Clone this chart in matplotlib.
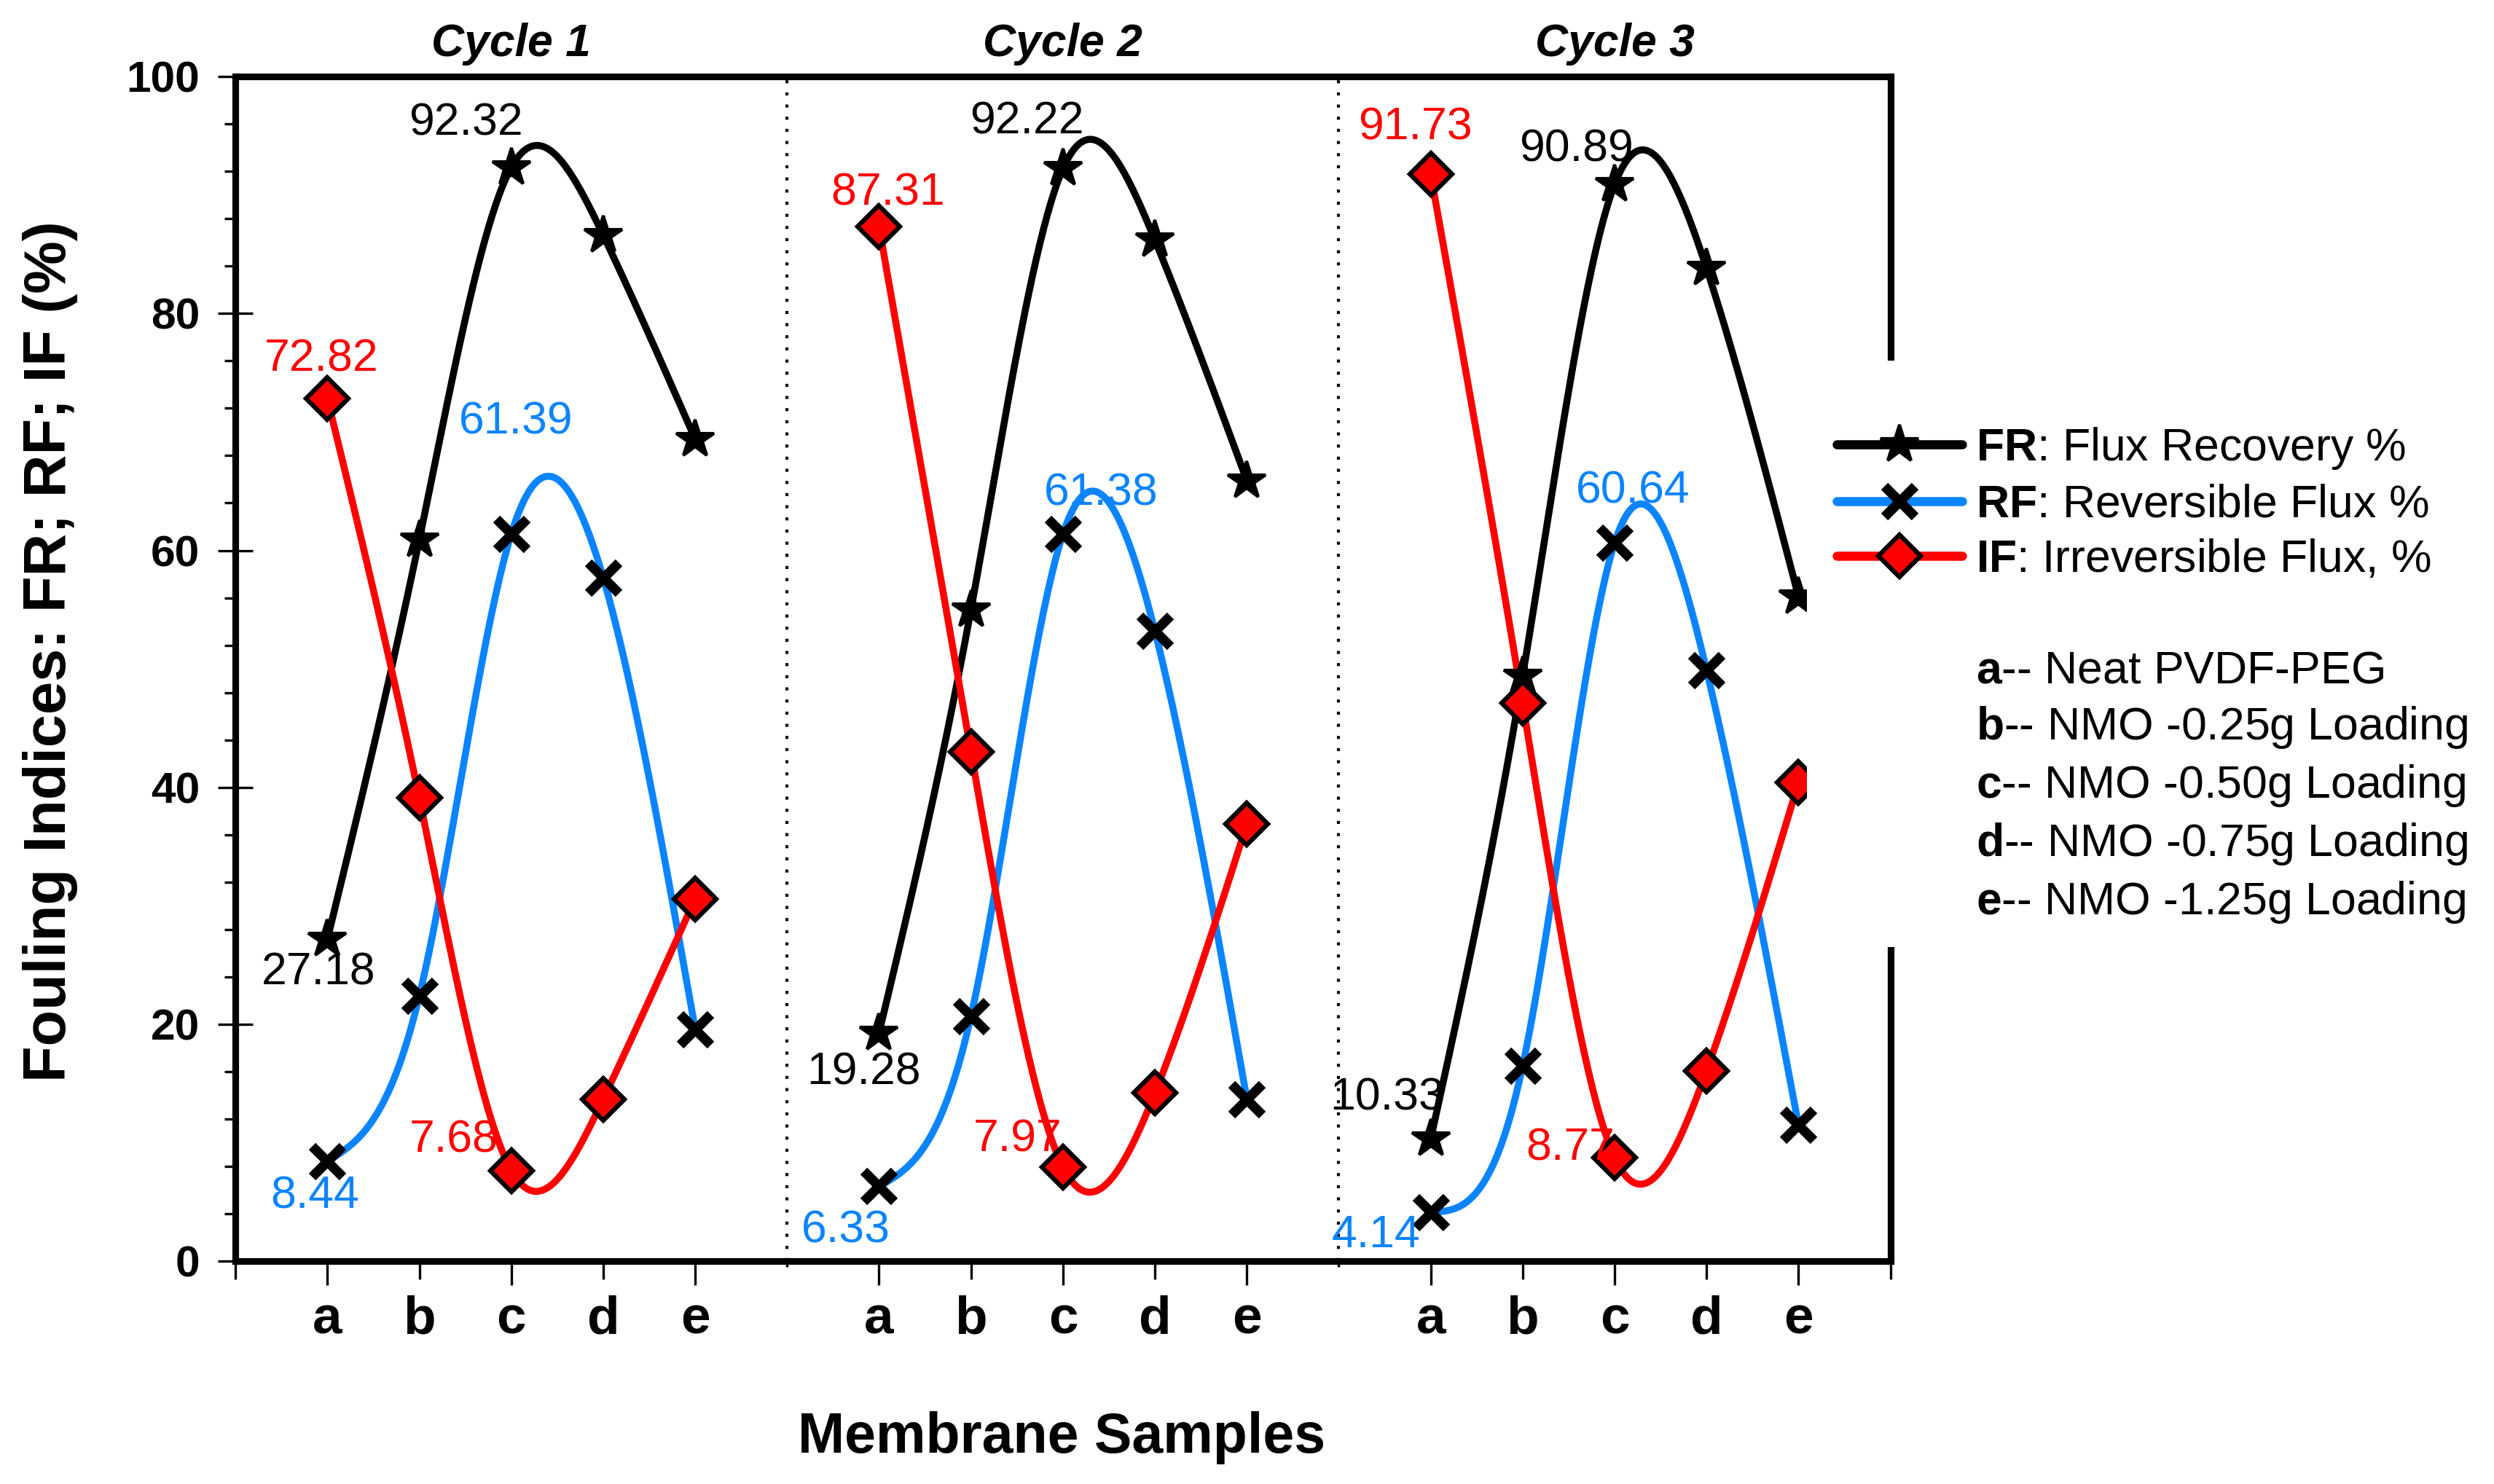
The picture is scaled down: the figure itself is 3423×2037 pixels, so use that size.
import numpy as np
import matplotlib
matplotlib.use("Agg")
import matplotlib.pyplot as plt
from matplotlib.lines import Line2D
from matplotlib.patches import Rectangle
from matplotlib.ticker import FixedLocator, MultipleLocator

plt.rcParams['font.family'] = ['Liberation Sans', 'DejaVu Sans']
plt.rcParams['mathtext.fontset'] = 'custom'
plt.rcParams['mathtext.rm'] = 'Liberation Sans'
plt.rcParams['mathtext.bf'] = 'Liberation Sans:bold'

# data: one list per cycle, samples a..e
samples = ['a', 'b', 'c', 'd', 'e']
cycles = ['Cycle 1', 'Cycle 2', 'Cycle 3']

fr_c1 = [27.18, 60.9, 92.32, 86.6, 69.4]
rf_c1 = [8.44, 22.4, 61.39, 57.7, 19.6]
if_c1 = [72.82, 39.1, 7.68, 13.7, 30.6]

fr_c2 = [19.28, 55.0, 92.22, 86.2, 65.9]
rf_c2 = [6.33, 20.7, 61.38, 53.2, 13.7]
if_c2 = [87.31, 43.0, 7.97, 14.2, 36.9]

fr_c3 = [10.33, 49.4, 90.89, 83.8, 56.1]
rf_c3 = [4.14, 16.5, 60.64, 49.9, 11.5]
if_c3 = [91.73, 47.1, 8.77, 16.1, 40.4]

fr = [fr_c1, fr_c2, fr_c3]
rf = [rf_c1, rf_c2, rf_c3]
irf = [if_c1, if_c2, if_c3]

descriptions = ['Neat PVDF-PEG', 'NMO -0.25g Loading', 'NMO -0.50g Loading',
                'NMO -0.75g Loading', 'NMO -1.25g Loading']

BLUE = '#0a84ff'
RED = '#ff0000'


def natural_spline(xs, ys, n=200):
    # natural cubic spline, used only to draw the connecting line
    xs = np.asarray(xs, float)
    ys = np.asarray(ys, float)
    k = len(xs)
    h = np.diff(xs)
    A = np.zeros((k, k))
    r = np.zeros(k)
    A[0, 0] = A[-1, -1] = 1
    for i in range(1, k - 1):
        A[i, i - 1] = h[i - 1]
        A[i, i] = 2 * (h[i - 1] + h[i])
        A[i, i + 1] = h[i]
        r[i] = 6 * ((ys[i + 1] - ys[i]) / h[i] - (ys[i] - ys[i - 1]) / h[i - 1])
    M = np.linalg.solve(A, r)
    xx = np.linspace(xs[0], xs[-1], n)
    idx = np.clip(np.searchsorted(xs, xx) - 1, 0, k - 2)
    x0, x1 = xs[idx], xs[idx + 1]
    hh = x1 - x0
    t0, t1 = x1 - xx, xx - x0
    yy = (M[idx] * t0 ** 3 + M[idx + 1] * t1 ** 3) / (6 * hh) \
        + (ys[idx] / hh - M[idx] * hh / 6) * t0 \
        + (ys[idx + 1] / hh - M[idx + 1] * hh / 6) * t1
    return xx, yy


fig = plt.figure(figsize=(3423 / 300, 2037 / 300), dpi=300)
ax = fig.add_axes([0.0944, 0.150, 0.6636, 0.7985])

series = [
    (fr, 'k', dict(marker='*', ms=13, color='k')),
    (rf, BLUE, dict(marker='x', ms=10, mew=3.2, color='k')),
    (irf, RED, dict(marker='D', ms=10, mfc=RED, mec='k', mew=1.5)),
]

# annotation offsets (points) for sample a and sample c of each series, per cycle
offsets = [
    {'fr': [(-3, -11), (-15, 14.5)], 'rf': [(-4, -11.5), (1.5, 37)], 'if': [(-2, 13), (-19, 10)]},
    {'fr': [(-5, -13), (-12, 15.5)], 'rf': [(-11, -14.5), (12.5, 13.5)], 'if': [(3, 11), (-15, 9)]},
    {'fr': [(-14.5, 13.5), (-12.5, 11.5)], 'rf': [(-18, -7.5), (6, 17)], 'if': [(-5, 15.5), (-14.5, 3)]},
]
keys = ['fr', 'rf', 'if']
text_colors = ['k', BLUE, RED]

for ci in range(3):
    xs = np.arange(1, 6) + 6 * ci
    for (data, lc, mk), key, tc in zip(series, keys, text_colors):
        vals = data[ci]
        sx, sy = natural_spline(xs, vals)
        ax.plot(sx, sy, color=lc, lw=2.3, zorder=2, clip_on=False)
        ax.plot(xs, vals, ls='none', zorder=3, clip_on=False, **mk)
        for j, off in zip([0, 2], offsets[ci][key]):
            ax.annotate(f"{vals[j]:.2f}", xy=(xs[j], vals[j]), xytext=off,
                        textcoords='offset points', ha='center', va='center',
                        fontsize=15, color=tc, zorder=4)
    ax.text(6 * ci + 3, 1.027, cycles[ci], transform=ax.get_xaxis_transform(),
            ha='center', va='center', fontsize=15, fontweight='bold', fontstyle='italic')

for xv in [6, 12]:
    ax.axvline(xv, color='k', lw=1.0, ls=(0, (1, 3)), zorder=1)

ax.set_xlim(0, 18)
ax.set_ylim(0, 100)

tick_pos = [6 * ci + i + 1 for ci in range(3) for i in range(5)]
ax.xaxis.set_major_locator(FixedLocator(tick_pos))
ax.set_xticklabels(samples * 3)
ax.xaxis.set_minor_locator(FixedLocator([0, 6, 12, 18]))
ax.tick_params(axis='x', which='major', direction='out', length=8, width=0.8,
               pad=3, labelsize=17.5)
ax.tick_params(axis='x', which='minor', direction='out', length=6, width=0.8)
for i, t in enumerate(ax.xaxis.get_major_ticks()):
    if i % 5 in (1, 3):
        t.tick1line.set_markersize(6)
for xv, t in zip([0, 6, 12, 18], ax.xaxis.get_minor_ticks()):
    if xv in (6, 12):
        t.tick1line.set_markersize(2)
for lab in ax.get_xticklabels():
    lab.set_fontweight('bold')

ax.yaxis.set_major_locator(MultipleLocator(20))
ax.yaxis.set_minor_locator(MultipleLocator(4))
ax.tick_params(axis='y', which='major', direction='inout', length=11.5, width=0.8,
               pad=6, labelsize=14.5)
ax.tick_params(axis='y', which='minor', direction='out', length=3.6, width=0.8)
for lab in ax.get_yticklabels():
    lab.set_fontweight('bold')

for s in ax.spines.values():
    s.set_linewidth(2.2)

ax.set_ylabel('Fouling Indices: FR; RF; IF (%)', fontsize=19.5, fontweight='bold')
ax.yaxis.set_label_coords(-0.095, 0.515)
ax.set_xlabel('Membrane Samples', fontsize=18.5, fontweight='bold', va='center')
ax.xaxis.set_label_coords(0.499, -0.149)

# white block behind the legend (hides the right spine there)
fig.add_artist(Rectangle((0.7245, 0.362), 0.28, 0.395, transform=fig.transFigure,
                         facecolor='white', edgecolor='none', zorder=5))

handles = [
    Line2D([0], [0], color='k', lw=3, solid_capstyle='round', marker='*', ms=13, mfc='k', mec='k'),
    Line2D([0], [0], color=BLUE, lw=3, solid_capstyle='round', marker='x', ms=10, mew=3.2, mec='k'),
    Line2D([0], [0], color=RED, lw=3, solid_capstyle='round', marker='D', ms=10, mfc=RED, mec='k', mew=1.5),
    Line2D([], [], ls='none'),
]
labels = [r'$\mathbf{FR}$: Flux Recovery %',
          r'$\mathbf{RF}$: Reversible Flux %',
          r'$\mathbf{IF}$: Irreversible Flux, %',
          ' ']
for s, d in zip(samples, descriptions):
    handles.append(Line2D([], [], ls='none'))
    labels.append(r'$\mathbf{' + s + '}$-- ' + d)

leg = fig.legend(handles, labels, loc='upper left', bbox_to_anchor=(0.7365, 0.7135),
                 frameon=False, fontsize=15, handlelength=2.75, handletextpad=0.3,
                 labelspacing=0.27, borderpad=0, borderaxespad=0)
leg.set_zorder(6)

fig.savefig('out.png', dpi=300)
